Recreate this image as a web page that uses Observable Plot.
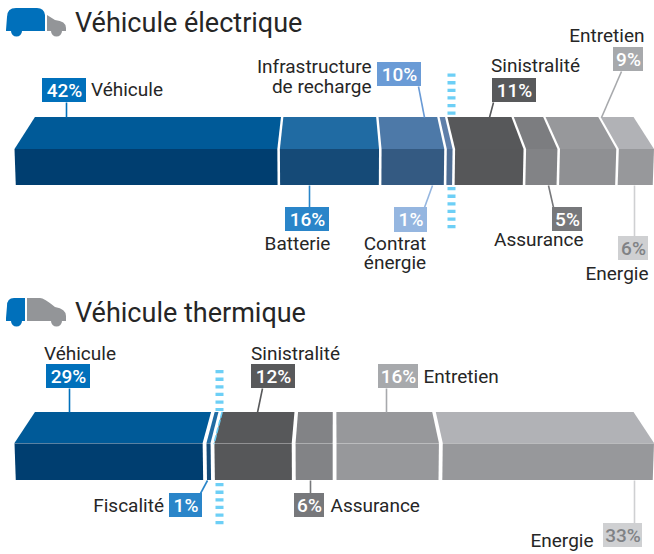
<!DOCTYPE html>
<html>
<head>
<meta charset="utf-8">
<style>html,body{margin:0;padding:0;background:#fff}svg{display:block}</style>
<script src="https://cdn.jsdelivr.net/npm/d3@7"></script>
<script src="https://cdn.jsdelivr.net/npm/@observablehq/plot@0.6"></script>
</head>
<body>
<div id="chart"></div>
<script>
// ---- Values ----
const titles = ["Véhicule électrique", "Véhicule thermique"];

const evCategories = ["Véhicule", "Batterie", "Infrastructure de recharge", "Contrat énergie", "Sinistralité", "Assurance", "Entretien", "Energie"];
const evPercentLabels = ["42%", "16%", "10%", "1%", "11%", "5%", "9%", "6%"];
const evBarShares = [41.3, 15.9, 10.2, 1.3, 11.1, 5.3, 9.2, 5.7];

const iceCategories = ["Véhicule", "Fiscalité", "Sinistralité", "Assurance", "Entretien", "Energie"];
const icePercentLabels = ["29%", "1%", "12%", "6%", "16%", "33%"];
const iceBarShares = [28.8, 1.2, 12.3, 6.2, 16.1, 32.3];

// ---- Styles ----
const evTopColors = ["#005a98", "#206ba3", "#4d79a8", "#5f7fa9", "#57585a", "#7c7d80", "#97989b", "#b1b2b6"];
const evFrontColors = ["#003e70", "#154a77", "#345a82", "#4e6d93", "#565759", "#828386", "#8f9093", "#97989b"];
const evBoxColors = ["#0070bb", "#2a85c9", "#6a9bd6", "#95b6e0", "#58595b", "#77787b", "#a7a9ac", "#cfd0d2"];
const evTextColors = ["#fff", "#fff", "#fff", "#fff", "#fff", "#fff", "#fff", "#808285"];
const iceTopColors = ["#005a98", "#206ba3", "#57585a", "#828386", "#97989b", "#b1b2b6"];
const iceFrontColors = ["#003e70", "#154a77", "#565759", "#828386", "#97989b", "#97989b"];
const iceBoxColors = ["#0070bb", "#2a85c9", "#58595b", "#77787b", "#a7a9ac", "#cfd0d2"];
const iceTextColors = ["#fff", "#fff", "#fff", "#fff", "#fff", "#808285"];

// ---- Layout (page pixels) ----
const X0 = 14.5, X1 = 654, W = 654, H = 554;
const toPct = px => (px - X0) / (X1 - X0) * 100;     // page pixel -> x-scale unit
const BACK = 0.936, TAPER = 0.996, MID = 50;         // perspective of the bar towards its centre
const INK = "#262626";

const evBar = {back: 117, front: 149, bottom: 185, gap: 0.2};
const iceBar = {back: 412, front: 443, bottom: 480, gap: 0.3};

// box [x1,x2,y1,y2], leader [x,y,x,y], text lines [anchor,x,[y...]]
const evLayout = [
  {box:[42,86,78,102],   lead:[66,102,66,117],   anchor:"start",  tx:90.5,ty:[89]},
  {box:[285,329,207,231],lead:[309,185,309,207], anchor:"middle", tx:297, ty:[243]},
  {box:[377,421,62,86],  lead:[418,86,424,117],  anchor:"end",    tx:371, ty:[66.5,86]},
  {box:[394,427,207,232],lead:[432,185,424,207], anchor:"middle", tx:394.5,ty:[243,262]},
  {box:[492,536,78,102], lead:[493,102,489,117], anchor:"start",  tx:490.5,ty:[65]},
  {box:[552,582,207,231],lead:[548,185,553,207], anchor:"end",    tx:583, ty:[239]},
  {box:[613,643,47,71],  lead:[621,71,601,117],  anchor:"end",    tx:644, ty:[35]},
  {box:[618,648,236,260],lead:[634,185,634,236], anchor:"end",    tx:648, ty:[273]}
];
const iceLayout = [
  {box:[46,90,364,388],  lead:[69,388,69,412],   anchor:"start",  tx:43.5,ty:[353]},
  {box:[169,202,493,517],lead:[207,480,200,493], anchor:"end",    tx:163.5,ty:[505]},
  {box:[251,295,364,388],lead:[262,388,257,412], anchor:"start",  tx:250.5,ty:[353]},
  {box:[294,324,493,517],lead:[310,480,310,493], anchor:"start",  tx:330, ty:[505]},
  {box:[378,418,364,388],lead:[386,388,386,412], anchor:"start",  tx:423, ty:[376]},
  {box:[603,642,523,547],lead:[634,480,634,523], anchor:"end",    tx:593, ty:[540]}
];
const evLines = [["Véhicule"],["Batterie"],["Infrastructure","de recharge"],["Contrat","énergie"],["Sinistralité"],["Assurance"],["Entretien"],["Energie"]];
const iceLines = [["Véhicule"],["Fiscalité"],["Sinistralité"],["Assurance"],["Entretien"],["Energie"]];

// ---- Build faces from the shares ----
function faces(shares, cats, topC, frontC, bar) {
  const total = d3.sum(shares);
  let cum = 0;
  const rows = [];
  shares.forEach((s, i) => {
    const a = cum / total * 100, b = (cum + s) / total * 100;
    cum += s;
    const x1 = a + (i ? bar.gap : 0), x2 = b - (i < shares.length - 1 ? bar.gap : 0);
    const persp = (x, k) => MID + (x - MID) * k;
    const key = bar.back + cats[i];
    rows.push({z:key+"t", y:bar.back, x1:persp(x1,BACK), x2:persp(x2,BACK), fill:topC[i]});
    rows.push({z:key+"t", y:bar.front, x1:x1, x2:x2, fill:topC[i]});
    rows.push({z:key+"f", y:bar.front, x1:x1, x2:x2, fill:frontC[i]});
    rows.push({z:key+"f", y:bar.bottom, x1:persp(x1,TAPER), x2:persp(x2,TAPER), fill:frontC[i]});
  });
  return rows;
}
function labels(layout, pcts, boxC, textC, lines) {
  const boxes = layout.map((l, i) => ({x1:toPct(l.box[0]), x2:toPct(l.box[1]), y1:l.box[2], y2:l.box[3],
    fill:boxC[i], text:pcts[i], tc:textC[i], cx:toPct((l.box[0]+l.box[1])/2), cy:(l.box[2]+l.box[3])/2,
    lx1:toPct(l.lead[0]), ly1:l.lead[1], lx2:toPct(l.lead[2]), ly2:l.lead[3]}));
  const texts = layout.flatMap((l, i) => lines[i].map((t, j) => ({t, x:toPct(l.tx), y:l.ty[j], anchor:l.anchor})));
  return {boxes, texts};
}
const evL = labels(evLayout, evPercentLabels, evBoxColors, evTextColors, evLines);
const iceL = labels(iceLayout, icePercentLabels, iceBoxColors, iceTextColors, iceLines);
const allBoxes = [...evL.boxes, ...iceL.boxes];
const allTexts = [...evL.texts, ...iceL.texts];
const allFaces = [
  ...faces(evBarShares, evCategories, evTopColors, evFrontColors, evBar),
  ...faces(iceBarShares, iceCategories, iceTopColors, iceFrontColors, iceBar)
];

const dashes = [
  {x:451, y1:73.5, y2:116}, {x:451, y1:187, y2:229},
  {x:219, y1:370, y2:411},  {x:219, y1:483, y2:525}
];
const slantDash = [{x:221.5, y:412}, {x:213.5, y:443}];

// Vehicle pictograms
const iconPaths = [
  {fill:"#0070bb", d:"M6,30 L7,17 Q7,8 16,8 L37,8 Q44,8 45,15 L45,31 L22,31 A5.5,5.5 0 0 1 11,31 L6,31 Z"},
  {fill:"#939598", d:"M47,15 L55,20 Q66,21 66,28 L66,31 L62,31 A5.5,5.5 0 0 1 51,31 L47,31 Z"},
  {fill:"#0070bb", d:"M6,318 L7,306 Q7,298 14,298 L25,298 L25,321 L22,321 A5.5,5.5 0 0 1 11,321 L6,321 Z"},
  {fill:"#939598", d:"M27,298 L40,298 Q44,298 55,307 Q66,309 66,316 L66,321 L62,321 A5.5,5.5 0 0 1 51,321 L27,321 Z"}
];
const iconMark = () => {
  const g = d3.create("svg:g");
  g.selectAll("path").data(iconPaths).join("path").attr("d", d => d.d).attr("fill", d => d.fill);
  return g.node();
};

const chart = Plot.plot({
  width: W, height: H,
  margin: 0,
  style: {background: "#fff", fontFamily: "Roboto, sans-serif"},
  x: {domain: [0, 100], range: [X0, X1], axis: null},
  y: {domain: [0, H], range: [0, H], axis: null},
  color: {type: "identity"},
  marks: [
    Plot.ruleX(dashes, {x: d => toPct(d.x), y1: "y1", y2: "y2", stroke: "#6dcff6", strokeWidth: 8, strokeDasharray: "3.3 4.3"}),
    Plot.areaX(allFaces, {y: "y", x1: "x1", x2: "x2", z: "z", fill: "fill", curve: "linear"}),
    Plot.line(slantDash, {x: d => toPct(d.x), y: "y", stroke: "#6dcff6", strokeWidth: 1.6, strokeDasharray: "5 3"}),
    Plot.ruleY([iceBar.front], {x1: 0, x2: 100, stroke: "#fff", strokeOpacity: 0.35, strokeWidth: 1}),
    Plot.link(allBoxes, {x1: "lx1", y1: "ly1", x2: "lx2", y2: "ly2", stroke: "fill", strokeWidth: 1.6}),
    Plot.rect(allBoxes, {x1: "x1", x2: "x2", y1: "y1", y2: "y2", fill: "fill"}),
    Plot.text(allBoxes, {x: "cx", y: "cy", text: "text", fill: "tc", fontSize: 19, fontWeight: 500, textAnchor: "middle", lineAnchor: "middle"}),
    ...["start", "middle", "end"].map(a => Plot.text(allTexts.filter(d => d.anchor === a), {
      x: "x", y: "y", text: "t", textAnchor: a, lineAnchor: "middle", fill: INK, fontSize: 19
    })),
    Plot.text([titles[0]], {x: toPct(74.5), y: 23, text: d => d, textAnchor: "start", lineAnchor: "middle", fill: INK, fontSize: 27}),
    Plot.text([titles[1]], {x: toPct(74.5), y: 313, text: d => d, textAnchor: "start", lineAnchor: "middle", fill: INK, fontSize: 27}),
    iconMark
  ]
});
document.getElementById("chart").appendChild(chart);
</script>
</body>
</html>
